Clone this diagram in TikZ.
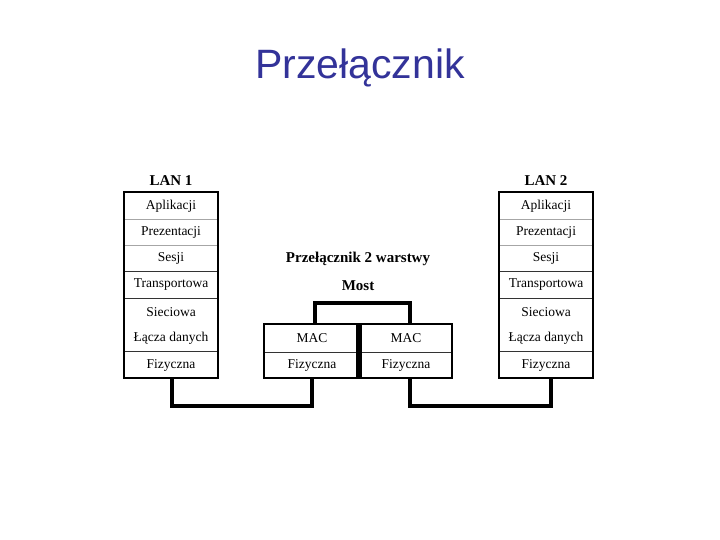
\documentclass[tikz,border=0pt]{standalone}
\usepackage{fontspec}
\setmainfont{Liberation Serif}
\newfontfamily\titlefont{Liberation Sans}
\definecolor{titleblue}{RGB}{51,51,153}
\begin{document}
\begin{tikzpicture}[x=1pt,y=-1pt,
  lbl/.style={inner sep=0pt,font=\fontsize{13.5}{15}\selectfont},
  hdr/.style={inner sep=0pt,font=\bfseries\fontsize{15}{17}\selectfont},
  thinln/.style={draw=gray!70,line width=0.6pt},
  sepln/.style={draw=black!80,line width=0.8pt},
  frame/.style={draw=black,line width=1.5pt},
  bus/.style={draw=black,line width=3.5pt}]
\useasboundingbox (0,0) rectangle (720,540);
\node[font=\titlefont\fontsize{41}{46}\selectfont,text=titleblue] (title) at (360,68) {Przełącznik};
% stacks
\foreach \n/\x/\bx in {1/124/172,2/499/551}{
  \pgfmathsetmacro\cx{\x+47}
  \node[hdr] (lan\n) at (\cx,181) {LAN \n};
  \draw[thinln] (\x,219)--++(94,0) (\x,245)--++(94,0);
  \draw[sepln] (\x,271)--++(94,0) (\x,298)--++(94,0) (\x,351)--++(94,0);
  \draw[frame] (\x,192) rectangle ++(94,186);
  \node[lbl] (a\n) at (\cx,206) {Aplikacji};
  \node[lbl] (p\n) at (\cx,232) {Prezentacji};
  \node[lbl] (s\n) at (\cx,258) {Sesji};
  \node[lbl] (t\n) at (\cx,285) {Transportowa};
  \node[lbl] (c\n) at (\cx,312) {Sieciowa};
  \node[lbl] (l\n) at (\cx,338) {Łącza danych};
  \node[lbl] (f\n) at (\cx,365) {Fizyczna};
  \coordinate (bot\n) at (\bx,378);
}
% switch
\node[hdr] (sw) at (358,259) {Przełącznik 2 warstwy};
\node[hdr] (most) at (358,286) {Most};
\draw[sepln] (264,352)--(452,352);
\draw[frame] (264,324) rectangle (452,378);
\draw[draw=black,line width=6pt] (358.5,324)--(358.5,378);
\node[lbl] (m1) at (312,338) {MAC};
\node[lbl] (m2) at (406,338) {MAC};
\node[lbl] (fa) at (312,365) {Fizyczna};
\node[lbl] (fb) at (406,365) {Fizyczna};
\coordinate (bl) at (315,324); \coordinate (br) at (410,324);
\draw[bus] (bl)--(315,303)--(410,303)--(br);
\coordinate (sb1) at (312,378); \coordinate (sb2) at (410,378);
\draw[bus] (bot1)--(172,406)--(312,406)--(sb1);
\draw[bus] (sb2)--(410,406)--(551,406)--(bot2);
\end{tikzpicture}
\end{document}
